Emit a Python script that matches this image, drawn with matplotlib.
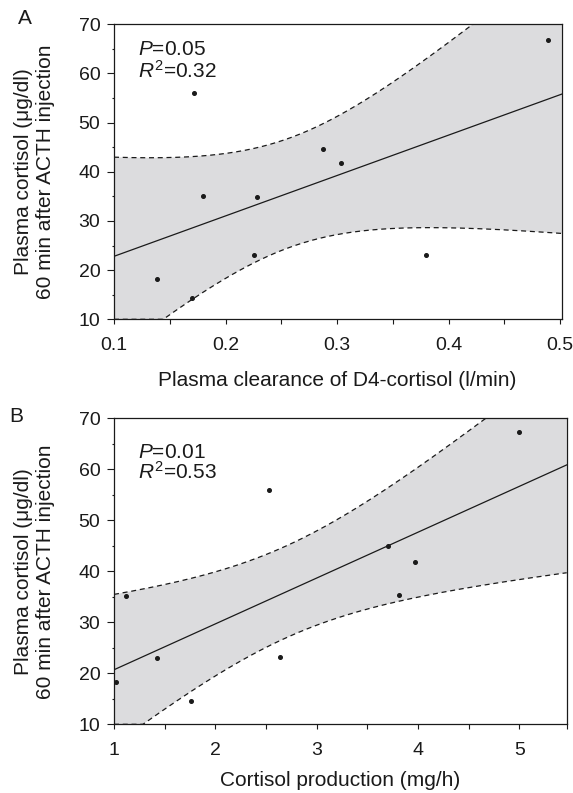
import numpy as np
import matplotlib
matplotlib.use("Agg")
import matplotlib.pyplot as plt

plt.rcParams['font.family'] = ['Liberation Sans', 'DejaVu Sans']
plt.rcParams['mathtext.fontset'] = 'custom'
plt.rcParams['mathtext.rm'] = 'Liberation Sans'
plt.rcParams['mathtext.it'] = 'Liberation Sans:italic'

# panel A: plasma clearance of D4-cortisol vs plasma cortisol
clearance = [0.139, 0.170, 0.172, 0.180, 0.226, 0.228, 0.287, 0.304, 0.380, 0.489]
cortisol_a = [18.1, 14.3, 56.0, 35.0, 23.0, 34.8, 44.7, 41.7, 23.0, 66.9]
stats_a = ["$P$=0.05", "$R^2$=0.32"]

# panel B: cortisol production vs plasma cortisol
production = [1.02, 1.12, 1.42, 1.76, 2.53, 2.64, 3.70, 3.81, 3.97, 5.00]
cortisol_b = [18.3, 35.1, 23.0, 14.6, 55.9, 23.2, 44.9, 35.4, 41.8, 67.3]
stats_b = ["$P$=0.01", "$R^2$=0.53"]

ylabel = "Plasma cortisol (\u03bcg/dl)\n60 min after ACTH injection"
T_CRIT = 2.306  # t(0.975, df=8)
BAND = '#dcdcde'
INK = '#1a1a1a'
W, H = 573, 793


def draw_panel(ax, x, y, xlim, xticks, xminor, xlabel, stats, stat_y):
    x = np.asarray(x)
    y = np.asarray(y)
    n = len(x)
    slope, icpt = np.polyfit(x, y, 1)
    resid = y - (icpt + slope * x)
    s = np.sqrt(np.sum(resid ** 2) / (n - 2))
    sxx = np.sum((x - x.mean()) ** 2)

    xs = np.linspace(xlim[0], xlim[1], 300)
    fit = icpt + slope * xs
    half = T_CRIT * s * np.sqrt(1.0 / n + (xs - x.mean()) ** 2 / sxx)
    upper = np.clip(fit + half, 10, 70)
    lower = np.clip(fit - half, 10, 70)

    ax.fill_between(xs, lower, upper, facecolor=BAND, edgecolor='none', zorder=1)
    ax.plot(xs, upper, color=INK, lw=0.9, ls=(0, (4, 3)), zorder=2)
    ax.plot(xs, lower, color=INK, lw=0.9, ls=(0, (4, 3)), zorder=2)
    ax.plot(xs, fit, color=INK, lw=0.9, zorder=3)
    ax.plot(x, y, 'o', color=INK, ms=2.6, zorder=4)

    ax.set_xlim(*xlim)
    ax.set_ylim(10, 70)
    ax.set_xticks(xticks)
    ax.set_xticks(xminor, minor=True)
    ax.set_yticks(np.arange(10, 71, 10))
    ax.set_yticks(np.arange(15, 70, 10), minor=True)
    ax.tick_params(axis='both', which='both', direction='out', labelsize=14,
                   colors=INK, width=0.8)
    ax.tick_params(axis='x', which='both', length=3.4, pad=9)
    ax.tick_params(axis='y', which='major', length=4.8, pad=5)
    ax.tick_params(axis='y', which='minor', length=1.7)
    for sp in ax.spines.values():
        sp.set_linewidth(0.9)
        sp.set_color(INK)
        sp.set_zorder(5)

    ax.text(0.054, stat_y[0], stats[0], transform=ax.transAxes, fontsize=15,
            color=INK, va='baseline')
    ax.text(0.054, stat_y[1], stats[1], transform=ax.transAxes, fontsize=15,
            color=INK, va='baseline')


fig = plt.figure(figsize=(W / 100, H / 100), dpi=100)
ax_a = fig.add_axes([114 / W, 1 - 319.3 / H, (561.7 - 114) / W, (319.3 - 24.3) / H])
ax_b = fig.add_axes([114 / W, 1 - 724.3 / H, (566.7 - 114) / W, (724.3 - 418.3) / H])

draw_panel(ax_a, clearance, cortisol_a, (0.1, 0.5015), [0.1, 0.2, 0.3, 0.4, 0.5],
           [0.15, 0.25, 0.35, 0.45], "Plasma clearance of D4-cortisol (l/min)",
           stats_a, (0.896, 0.817))
draw_panel(ax_b, production, cortisol_b, (1, 5.468), [1, 2, 3, 4, 5],
           [1.5, 2.5, 3.5, 4.5, 5.468], "Cortisol production (mg/h)",
           stats_b, (0.869, 0.803))

# axis titles and panel letters
fig.text(337.5 / W, 1 - 380 / H, "Plasma clearance of D4-cortisol (l/min)",
         fontsize=15, color=INK, ha='center', va='center')
fig.text(340 / W, 1 - 780 / H, "Cortisol production (mg/h)",
         fontsize=15, color=INK, ha='center', va='center')
fig.text(34.5 / W, 1 - 171.8 / H, ylabel, rotation=90, fontsize=15, color=INK,
         ha='center', va='center', multialignment='center', linespacing=1.15)
fig.text(34.5 / W, 1 - 571.3 / H, ylabel, rotation=90, fontsize=15, color=INK,
         ha='center', va='center', multialignment='center', linespacing=1.15)
fig.text(24.5 / W, 1 - 18.3 / H, "A", fontsize=15, color=INK, ha='center', va='center')
fig.text(16.3 / W, 1 - 416.7 / H, "B", fontsize=15, color=INK, ha='center', va='center')

fig.savefig("out.png", dpi=100)
